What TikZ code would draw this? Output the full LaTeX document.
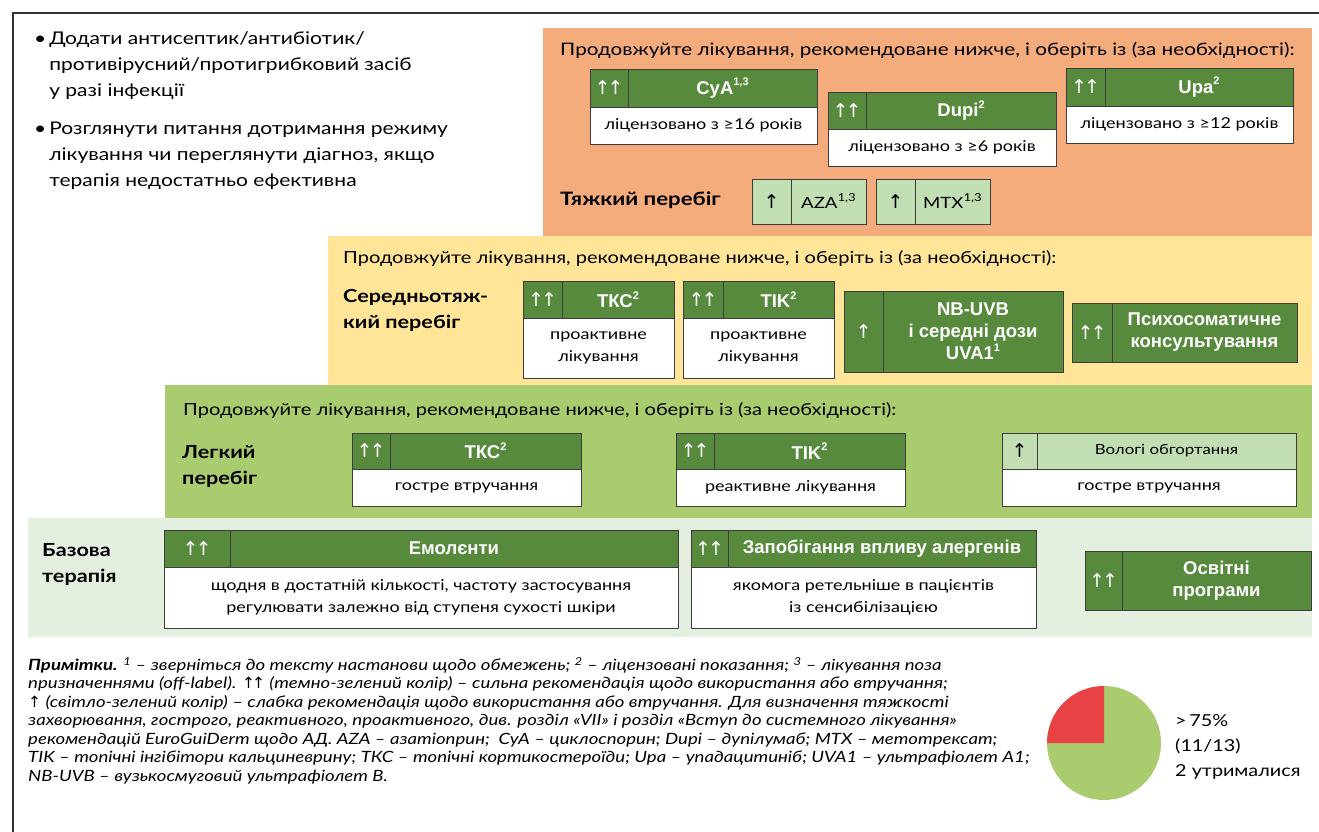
\documentclass[tikz,border=0pt]{standalone}
\usepackage{fontspec}
\setmainfont{Lato}[FakeStretch=1.2]
\newfontfamily\arialf{Liberation Sans}
\newfontfamily\symf{DejaVu Sans}
\definecolor{dgreen}{HTML}{578A3C}
\definecolor{lgreen}{HTML}{C2DEB3}
\definecolor{bandO}{HTML}{F5AC7D}
\definecolor{bandY}{HTML}{FEE598}
\definecolor{bandG}{HTML}{A9CC6E}
\definecolor{bandB}{HTML}{E4EFE0}
\definecolor{pieG}{HTML}{AACC6E}
\definecolor{pieR}{HTML}{E84244}
\definecolor{edge}{HTML}{3C3C3C}

% small raised footnote marks inside box titles
\newcommand\fnmark[1]{\raisebox{0.45em}{\fontsize{11}{11}\selectfont #1}}
% strong recommendation: two tight arrows
\newcommand\upup{↑\kern-3pt↑}

% treatment box: header (arrow cell + title) over a white body
% #1 name, #2 x left, #3 x arrow divider, #4 x right, #5 y top, #6 y header bottom, #7 y bottom, #8 header fill
\newcommand\trbox[8]{%
  \fill[#8] (#2,#5) rectangle (#4,#6);
  \fill[white] (#2,#6) rectangle (#4,#7);
  \draw[edgeline] (#2,#5) rectangle (#4,#7);
  \draw[edgeline] (#2,#6) -- (#4,#6);
  \draw[edgeline] (#3,#5) -- (#3,#6);
  \coordinate (#1-a) at ({(#2+#3)/2},{(#5+#6)/2});
  \coordinate (#1-h) at ({(#3+#4)/2},{(#5+#6)/2});
  \coordinate (#1-b) at ({(#2+#4)/2},{(#6+#7)/2});
}
% single-row box: arrow cell + title
% #1 name, #2 x left, #3 x divider, #4 x right, #5 y top, #6 y bottom, #7 fill
\newcommand\onebox[7]{%
  \fill[#7] (#2,#5) rectangle (#4,#6);
  \draw[edgeline] (#2,#5) rectangle (#4,#6);
  \draw[edgeline] (#3,#5) -- (#3,#6);
  \coordinate (#1-a) at ({(#2+#3)/2},{(#5+#6)/2});
  \coordinate (#1-h) at ({(#3+#4)/2},{(#5+#6)/2});
}

\begin{document}
\begin{tikzpicture}[x=1pt,y=-1pt,
  edgeline/.style={draw=edge,line width=0.9pt},
  arrw/.style={font=\symf\fontsize{19}{19}\selectfont,text=white,inner sep=0},
  arrb/.style={font=\symf\fontsize{19}{19}\selectfont,text=black,inner sep=0},
  ttl/.style={font=\arialf\bfseries\fontsize{18.5}{22}\selectfont,text=white,align=center,inner sep=0},
  ttlb/.style={font=\fontsize{15.5}{18}\selectfont,text=black,align=center,inner sep=0},
  bod/.style={font=\fontsize{15}{22.5}\selectfont,align=center,inner sep=0},
  bandtitle/.style={font=\fontsize{16.7}{20}\selectfont,anchor=west,inner sep=0},
  level/.style={font=\bfseries\fontsize{18}{26}\selectfont,align=left,anchor=west,inner sep=0},
  bullet/.style={font=\fontsize{17.5}{26}\selectfont,align=left,anchor=north west,inner sep=0}]
\useasboundingbox (0,0) rectangle (1319,832);
\fill[white] (0,0) rectangle (1319,832);

% outer frame
\draw[line width=1.3pt,black!80] (13,832) -- (13,13) -- (1319,13);

% severity bands
\fill[bandO] (543,28) rectangle (1312,236);
\fill[bandY] (328,236) rectangle (1312,385);
\fill[bandG] (165,385) rectangle (1312,518);
\fill[bandB] (28,518) rectangle (1312,637);

% general advice
\node[bullet] (adv1) at (34,31) {•\,Додати антисептик/антибіотик/\\
\hphantom{•\,}противірусний/протигрибковий засіб\\
\hphantom{•\,}у разі інфекції};
\node[bullet] (adv2) at (34,122) {•\,Розглянути питання дотримання режиму\\
\hphantom{•\,}лікування чи переглянути діагноз, якщо\\
\hphantom{•\,}терапія недостатньо ефективна};

% ---- severe ----
\node[bandtitle,font=\fontsize{17.2}{20}\selectfont] (tO) at (560,50) {Продовжуйте лікування, рекомендоване нижче, і оберіть із (за необхідності):};
\trbox{cya}{590}{628}{817}{69}{107}{144}{dgreen}
\node[arrw] (cya-arr) at (cya-a) {\upup};
\node[ttl] (cya-t) at (cya-h) {CyA\fnmark{1,3}};
\node[bod] (cya-d) at (cya-b) {ліцензовано з ≥16 років};
\trbox{dupi}{828}{866}{1056}{92}{129}{166}{dgreen}
\node[arrw] (dupi-arr) at (dupi-a) {\upup};
\node[ttl] (dupi-t) at (dupi-h) {Dupi\fnmark{2}};
\node[bod] (dupi-d) at (dupi-b) {ліцензовано з ≥6 років};
\trbox{upa}{1066}{1105}{1293}{68}{106}{143}{dgreen}
\node[arrw] (upa-arr) at (upa-a) {\upup};
\node[ttl] (upa-t) at (upa-h) {Upa\fnmark{2}};
\node[bod] (upa-d) at (upa-b) {ліцензовано з ≥12 років};
\node[level,font=\bfseries\fontsize{18.5}{26}\selectfont] (lvS) at (560,200) {Тяжкий перебіг};
\onebox{aza}{752}{791}{866}{179}{224}{lgreen}
\node[arrb] (aza-arr) at (aza-a) {↑};
\node[ttlb] (aza-t) at (aza-h) {AZA\fnmark{1,3}};
\onebox{mtx}{876}{915}{990}{179}{224}{lgreen}
\node[arrb] (mtx-arr) at (mtx-a) {↑};
\node[ttlb] (mtx-t) at (mtx-h) {MTX\fnmark{1,3}};

% ---- moderate ----
\node[bandtitle] (tY) at (343,258) {Продовжуйте лікування, рекомендоване нижче, і оберіть із (за необхідності):};
\node[level] (lvM) at (343,310) {Середньотяж-\\кий перебіг};
\trbox{tcsM}{523}{562}{674}{281}{318}{378}{dgreen}
\node[arrw] (tcsM-arr) at (tcsM-a) {\upup};
\node[ttl] (tcsM-t) at (tcsM-h) {ТКС\fnmark{2}};
\node[bod] (tcsM-d) at (tcsM-b) {проактивне\\лікування};
\trbox{ticM}{683}{723}{834}{281}{318}{378}{dgreen}
\node[arrw] (ticM-arr) at (ticM-a) {\upup};
\node[ttl] (ticM-t) at (ticM-h) {TIK\fnmark{2}};
\node[bod] (ticM-d) at (ticM-b) {проактивне\\лікування};
\onebox{uv}{844}{883}{1063}{291}{372}{dgreen}
\node[arrw] (uv-arr) at (uv-a) {↑};
\node[ttl] (uv-t) at (uv-h) {NB-UVB\\і середні дози\\UVA1\fnmark{1}};
\onebox{psy}{1072}{1112}{1297}{303}{362}{dgreen}
\node[arrw] (psy-arr) at (psy-a) {\upup};
\node[ttl] (psy-t) at (psy-h) {Психосоматичне\\консультування};

% ---- mild ----
\node[bandtitle] (tG) at (183,410) {Продовжуйте лікування, рекомендоване нижче, і оберіть із (за необхідності):};
\node[level] (lvL) at (182,466) {Легкий\\перебіг};
\trbox{tcsL}{352}{390}{581}{433}{469}{506}{dgreen}
\node[arrw] (tcsL-arr) at (tcsL-a) {\upup};
\node[ttl] (tcsL-t) at (tcsL-h) {ТКС\fnmark{2}};
\node[bod] (tcsL-d) at (tcsL-b) {гостре втручання};
\trbox{ticL}{676}{714}{905}{433}{469}{506}{dgreen}
\node[arrw] (ticL-arr) at (ticL-a) {\upup};
\node[ttl] (ticL-t) at (ticL-h) {TIK\fnmark{2}};
\node[bod] (ticL-d) at (ticL-b) {реактивне лікування};
\trbox{wet}{1002}{1037}{1296}{433}{469}{506}{lgreen}
\node[arrb] (wet-arr) at (wet-a) {↑};
\node[ttlb,font=\fontsize{14}{18}\selectfont] (wet-t) at (wet-h) {Вологі обгортання};
\node[bod] (wet-d) at (wet-b) {гостре втручання};

% ---- basic therapy ----
\node[level] (lvB) at (42,564) {Базова\\терапія};
\trbox{emo}{164}{230}{678}{530}{567}{628}{dgreen}
\node[arrw] (emo-arr) at (emo-a) {\upup};
\node[ttl] (emo-t) at (emo-h) {Емолєнти};
\node[bod] (emo-d) at (emo-b) {щодня в достатній кількості, частоту застосування\\регулювати залежно від ступеня сухості шкіри};
\trbox{alg}{691}{728}{1036}{530}{567}{628}{dgreen}
\node[arrw] (alg-arr) at (alg-a) {\upup};
\node[ttl] (alg-t) at (alg-h) {Запобігання впливу алергенів};
\node[bod] (alg-d) at (alg-b) {якомога ретельніше в пацієнтів\\із сенсибілізацією};
\onebox{edu}{1085}{1122}{1311}{551}{610}{dgreen}
\node[arrw] (edu-arr) at (edu-a) {\upup};
\node[ttl] (edu-t) at (edu-h) {Освітні\\програми};

% ---- notes ----
\node[font=\itshape\fontsize{15.5}{18.5}\selectfont,align=left,anchor=north west,inner sep=0] (notes) at (28,657) {%
\textbf{Примітки.} \textsuperscript{1} – зверніться до тексту настанови щодо обмежень; \textsuperscript{2} – ліцензовані показання; \textsuperscript{3} – лікування поза\\
призначеннями (off-label). {\symf\upup} (темно-зелений колір) – сильна рекомендація щодо використання або втручання;\\
{\symf↑} (світло-зелений колір) – слабка рекомендація щодо використання або втручання. Для визначення тяжкості\\
захворювання, гострого, реактивного, проактивного, див. розділ «VII» і розділ «Вступ до системного лікування»\\
рекомендацій EuroGuiDerm щодо АД. AZA – азатіоприн;\ \ CyA – циклоспорин; Dupi – дупілумаб; MTX – метотрексат;\\
TIK – топічні інгібітори кальциневрину; ТКС – топічні кортикостероїди; Upa – упадацитиніб; UVA1 – ультрафіолет А1;\\
NB-UVB – вузькосмуговий ультрафіолет В.};

% ---- vote pie ----
\coordinate (pc) at (1104,743);
\fill[pieG] (pc) circle (57);
\fill[pieR] (pc) -- ++(-57,0) arc[start angle=180,end angle=270,radius=57] -- cycle;
\node[font=\fontsize{16.5}{25}\selectfont,align=left,anchor=west,inner sep=0] (vote) at (1175,747) {>\,75\%\\(11/13)\\2 утрималися};
\end{tikzpicture}
\end{document}
